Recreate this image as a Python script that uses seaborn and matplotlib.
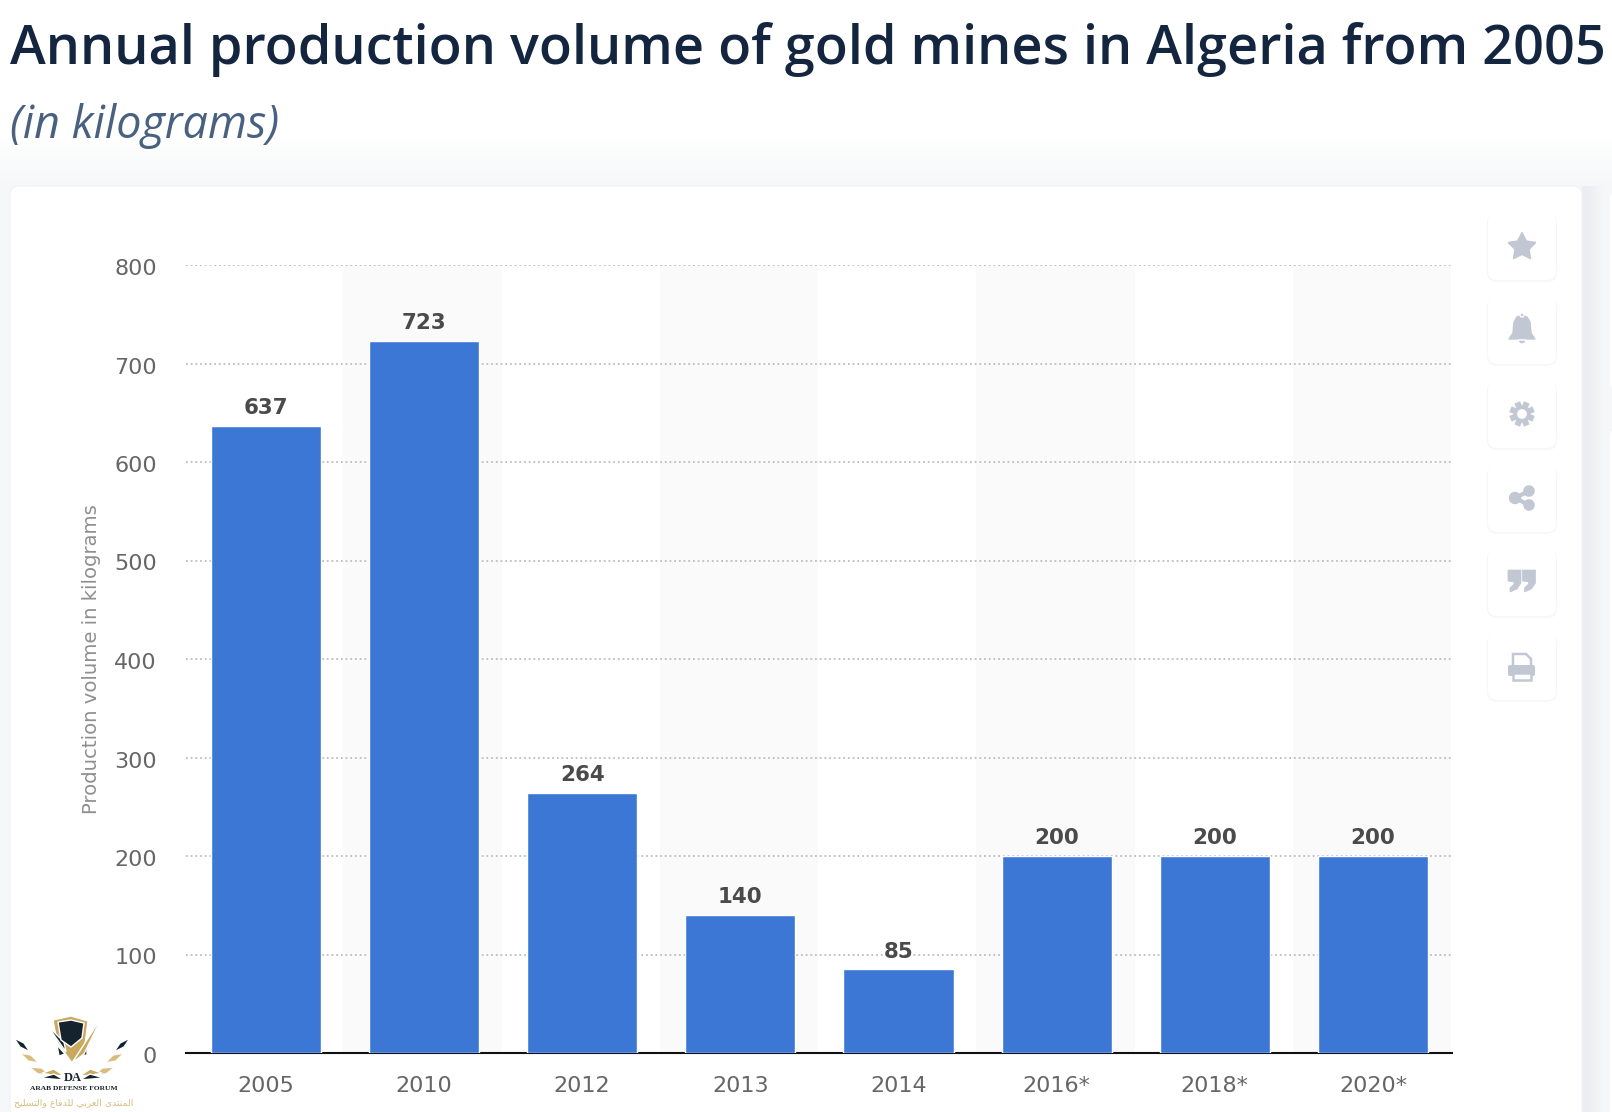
#!/usr/bin/env python3
import numpy as np
import matplotlib
matplotlib.use("Agg")
import matplotlib.pyplot as plt
from matplotlib.patches import FancyBboxPatch, Polygon, Circle, Rectangle, Wedge
from matplotlib.transforms import ScaledTranslation
import seaborn as sns

# Chart data
years = ["2005", "2010", "2012", "2013", "2014", "2016*", "2018*", "2020*"]
volume_kg = [637, 723, 264, 140, 85, 200, 200, 200]
y_ticks = [0, 100, 200, 300, 400, 500, 600, 700, 800]

title = "Annual production volume of gold mines in Algeria from 2005"
subtitle = "(in kilograms)"
y_label = "Production volume in kilograms"

W, H = 1612, 1112
BLUE = "#3c77d6"
GREY = "#666666"
ICON = "#c2c8d3"


def draw_icons(dec):
    # Toolbar buttons on the right of the card
    for top in [212, 296, 380, 464, 548, 632]:
        dec.add_patch(FancyBboxPatch((1487, top + 1), 70, 69, boxstyle="round,pad=0,rounding_size=10",
                                     fc="#f6f7f9", ec="none", zorder=3))
        dec.add_patch(FancyBboxPatch((1488, top), 68, 68, boxstyle="round,pad=0,rounding_size=9",
                                     fc="white", ec="none", zorder=4))

    # star
    ang = np.deg2rad(np.arange(0, 360, 36) - 90)
    rad = np.where(np.arange(10) % 2 == 0, 14.5, 7.4)
    dec.add_patch(Polygon(np.c_[1522 + rad * np.cos(ang), 247 + rad * np.sin(ang)], fc=ICON, ec=ICON, lw=1, zorder=5))

    # bell
    dec.add_patch(Polygon([(1509, 339), (1513, 333), (1514, 322), (1517, 317), (1522, 315), (1527, 317),
                           (1530, 322), (1531, 333), (1535, 339)], fc=ICON, ec=ICON, lw=1, zorder=5))
    dec.add_patch(Wedge((1522, 340), 4, 0, 180, fc=ICON, zorder=5))
    dec.add_patch(Circle((1522, 315), 2, fc=ICON, zorder=5))

    # gear
    dec.add_patch(Circle((1522, 414), 9.5, fc=ICON, zorder=5))
    for a in np.deg2rad(np.arange(0, 360, 45) + 22.5):
        dec.plot([1522 + 8 * np.cos(a), 1522 + 12.5 * np.cos(a)], [414 + 8 * np.sin(a), 414 + 12.5 * np.sin(a)],
                 color=ICON, lw=4.4, solid_capstyle="butt", zorder=5)
    dec.add_patch(Circle((1522, 414), 4.2, fc="white", zorder=6))

    # share
    dec.plot([1529, 1515, 1529], [491, 498, 505], color=ICON, lw=3, solid_capstyle="round", zorder=7)
    for cx, cy, r in [(1529, 491, 5.8), (1515, 498, 6.2), (1529, 505, 5.8)]:
        dec.add_patch(Circle((cx, cy), r, fc=ICON, ec="none", zorder=7))

    # quotes
    for off in [0, 14.5]:
        dec.add_patch(Polygon([(1508 + off, 570), (1521 + off, 570), (1521 + off, 583), (1517 + off, 589),
                               (1510 + off, 592), (1510 + off, 588), (1514 + off, 584), (1514 + off, 582),
                               (1508 + off, 581)], fc=ICON, ec=ICON, lw=0.5, zorder=5))

    # printer
    dec.add_patch(Polygon([(1513, 654), (1526, 654), (1531, 659), (1531, 667), (1513, 667)],
                          fc="white", ec=ICON, lw=1.8, zorder=5))
    dec.add_patch(FancyBboxPatch((1508, 665), 27, 11, boxstyle="round,pad=0,rounding_size=2",
                                 fc=ICON, ec="none", zorder=5))
    dec.add_patch(Rectangle((1513, 673), 18, 7, fc="white", ec=ICON, lw=1.8, zorder=6))


def draw_logo(dec):
    dark = "#14232e"
    gold = "#c9a860"
    light = "#d9bd80"
    # shield and check mark
    dec.add_patch(Polygon([(53, 1020), (71, 1016), (88, 1021), (85, 1045), (72, 1063), (57, 1042)], fc=gold, zorder=3))
    dec.add_patch(Polygon([(58, 1022), (71, 1020), (84, 1023), (82, 1038), (71, 1047), (61, 1040)], fc=dark, zorder=4))
    dec.add_patch(Polygon([(72, 1063), (103, 1015), (84, 1054)], fc=gold, zorder=5))
    dec.add_patch(Polygon([(47, 1025), (64, 1042), (66, 1052)], fc=dark, zorder=3))
    dec.add_patch(Polygon([(57, 1045), (65, 1054), (59, 1056)], fc=dark, zorder=3))
    dec.add_patch(Polygon([(87, 1045), (80, 1056), (87, 1055)], fc=dark, zorder=3))

    # wings, left side given and mirrored around the shield
    feathers = [([(14, 1038), (24, 1043), (30, 1052), (20, 1047)], dark),
                ([(20, 1053), (31, 1055), (39, 1063), (28, 1061)], light),
                ([(29, 1067), (42, 1068), (50, 1075), (38, 1074)], light),
                ([(42, 1073), (54, 1069), (64, 1076), (52, 1075)], gold),
                ([(40, 1078), (54, 1074), (64, 1080), (52, 1079)], dark)]
    for pts, col in feathers:
        dec.add_patch(Polygon(pts, fc=col, zorder=3))
        dec.add_patch(Polygon([(144 - px, py) for px, py in pts], fc=col, zorder=3))

    dec.text(73, 1078, "DA", family="Liberation Serif", fontsize=9, fontweight="bold",
             color=dark, ha="center", va="center", zorder=5)
    dec.text(74, 1089, "ARAB DEFENSE FORUM", family="Liberation Serif", fontsize=5.4, fontweight="bold",
             color=dark, ha="center", va="center", zorder=5)
    # Arabic line, shaped letters in drawing order
    arabic = ("\ufe8d\ufedf\ufee4\ufee8\ufe98\ufeaa\ufeef \ufe8d\ufedf\ufecc\ufeae\ufe91\ufef2 "
              "\ufedf\ufee0\ufeaa\ufed3\ufe8e\ufec9 \ufeed\ufe8d\ufedf\ufe98\ufeb4\ufee0\ufef4\ufea2")
    dec.text(74, 1103, arabic[::-1], family="DejaVu Sans", fontsize=6.7, color=light,
             ha="center", va="center", zorder=5)


def main():
    sns.set_theme(style="white")
    plt.rcParams["font.family"] = ["DejaVu Sans"]

    fig = plt.figure(figsize=(W / 100, H / 100), dpi=100, facecolor="white")

    # Page background and card, in pixel coordinates
    dec = fig.add_axes([0, 0, 1, 1], zorder=0)
    dec.set_xlim(0, W)
    dec.set_ylim(H, 0)
    dec.axis("off")
    ramp = np.clip((np.arange(H) - 135) / 51, 0, 1)[:, None, None]
    fade = (1 - ramp) + np.array([[[0.965, 0.969, 0.976]]]) * ramp
    dec.imshow(fade, extent=[0, W, H, 0], aspect="auto", zorder=0)
    dec.imshow(np.array([[[0.925, 0.933, 0.953], [0.965, 0.969, 0.976]]]), extent=[1582, 1610, 1112, 186],
               aspect="auto", interpolation="bilinear", zorder=0.5)
    dec.set_xlim(0, W)
    dec.set_ylim(H, 0)
    dec.add_patch(FancyBboxPatch((10, 186), 1572, 1000, boxstyle="round,pad=0,rounding_size=9",
                                 fc="white", ec="#f2f3f6", lw=1, zorder=1))
    dec.add_patch(FancyBboxPatch((1610, 190), 40, 200, boxstyle="round,pad=0,rounding_size=9",
                                 fc="white", ec="none", zorder=1))
    dec.add_patch(FancyBboxPatch((1610, 428), 40, 800, boxstyle="round,pad=0,rounding_size=9",
                                 fc="white", ec="none", zorder=1))
    draw_icons(dec)
    draw_logo(dec)

    # Titles
    fig.text(10 / W, 1 - 64 / H, title, family="Open Sans", fontsize=38.9, fontweight=600,
             color="#14263f", ha="left", va="baseline")
    fig.text(10 / W, 1 - 138 / H, subtitle, family="Open Sans", fontsize=32.3, style="italic",
             color="#486180", ha="left", va="baseline")

    # Main plot area
    left, right, top, bottom = 186, 1452, 265, 1053

    # Alternating bands sit on a slightly different grid than the bars
    band_w = (right - left) / 8
    for i in range(1, len(years), 2):
        dec.add_patch(Rectangle((left - 1 + i * band_w, top), band_w, bottom - top, fc="#fafafa", ec="none", zorder=2))

    ax = fig.add_axes([left / W, 1 - bottom / H, (right - left) / W, (bottom - top) / H], zorder=1)
    ax.patch.set_alpha(0)

    sns.barplot(x=years, y=volume_kg, color=BLUE, saturation=1, width=0.696, ax=ax, zorder=3)
    ax.set_xlim(-0.505, len(years) - 0.5)
    ax.set_ylim(y_ticks[0], y_ticks[-1])

    ax.set_yticks(y_ticks)
    ax.yaxis.grid(True, color="#bdbdbd", linewidth=1.3, linestyle=(0, (1, 1.6)), zorder=1)
    ax.set_axisbelow(True)
    ax.tick_params(axis="both", length=0, labelsize=16, labelcolor=GREY)
    ax.tick_params(axis="y", pad=21)
    ax.tick_params(axis="x", pad=16.5)
    ax.set_ylabel(y_label, fontsize=14.1, color="#8f8f8f", labelpad=9.5)
    ax.set_xlabel("")

    # y tick labels sit a little under their gridlines
    nudge = ScaledTranslation(0, -2 / 100, fig.dpi_scale_trans)
    for lab in ax.get_yticklabels():
        lab.set_transform(lab.get_transform() + nudge)

    sns.despine(ax=ax, left=True, top=True, right=True)
    ax.spines["bottom"].set_color("#111111")
    ax.spines["bottom"].set_linewidth(1.5)

    ax.bar_label(ax.containers[0], labels=[str(v) for v in volume_kg], padding=5.5, fontsize=15.4,
                 fontweight="bold", color="#4a4a4a")

    fig.savefig("out.png", dpi=100)


if __name__ == "__main__":
    main()
